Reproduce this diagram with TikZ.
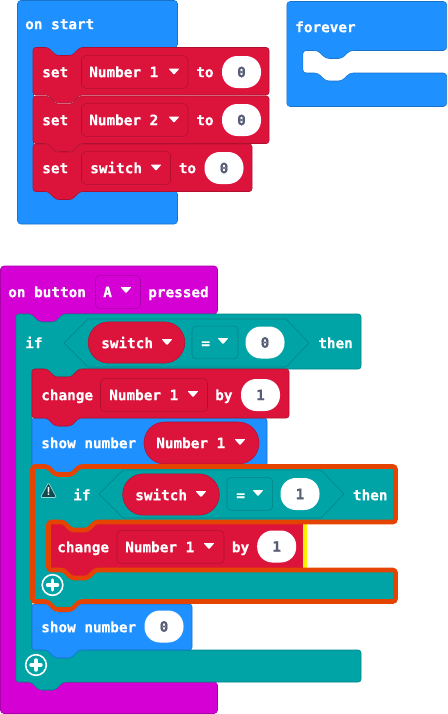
\documentclass[tikz,border=0pt]{standalone}
\usepackage{fontspec}
\setmainfont{DejaVu Sans Mono}[BoldFeatures={FakeBold=0.6}]
\definecolor{blockBlue}{HTML}{1E90FF}
\definecolor{blockBlueDark}{HTML}{1873CC}
\definecolor{blockRed}{HTML}{DC143C}
\definecolor{blockRedDark}{HTML}{B01030}
\definecolor{blockPink}{HTML}{D400D4}
\definecolor{blockPinkDark}{HTML}{AA00AA}
\definecolor{blockTeal}{HTML}{00A4A6}
\definecolor{blockTealDark}{HTML}{008385}
\definecolor{warnOrange}{HTML}{E54400}
\definecolor{warnDark}{HTML}{0F4A4C}
\definecolor{valueGray}{HTML}{575E75}
\tikzset{
  word/.style={anchor=west,inner sep=0,text=white,font=\fontsize{10.75}{12}\bfseries,text height=7.8pt,text depth=0pt},
  number value/.style={fill=white,rectangle,rounded corners=11.5pt,inner sep=0,minimum width=29.25pt,minimum height=24pt,text=valueGray,font=\fontsize{10.75}{12}\bfseries,text height=7.8pt,text depth=0pt},
  menu box/.style={rectangle,rounded corners=3pt,inner sep=0,minimum height=24.5pt},
  plus ring/.style={circle,draw=white,line width=1.2pt,minimum size=15.5pt,inner sep=0},
  plus bar/.style={draw=white,line width=2.6pt,line cap=round}
}
% x1, y1, x2, y2: one stacking block
\newcommand{\stackblock}[5][]{
  \path[rounded corners=2pt,#1] (#2,#3) -- ({#2+15},#3) -- ({#2+23},{#3+8}) -- ({#2+39},{#3+8}) -- ({#2+47},#3)
    -- (#4,#3) -- (#4,#5) -- ({#2+47},#5) -- ({#2+39},{#5+8}) -- ({#2+23},{#5+8}) -- ({#2+15},#5) -- (#2,#5) -- cycle;
}
% x1, y1, x2, arm bottom, arm top, y2: a block with a slot, left column 16 wide
\newcommand{\loopblock}[7][]{
  \path[rounded corners=2pt,#1] (#2,#3) -- ({#2+15},#3) -- ({#2+23},{#3+8}) -- ({#2+39},{#3+8}) -- ({#2+47},#3)
    -- (#4,#3) -- (#4,#5) -- ({#2+63},#5) -- ({#2+55},{#5+8}) -- ({#2+39},{#5+8}) -- ({#2+31},#5) -- ({#2+16},#5)
    -- ({#2+16},#6) -- ({#2+31},#6) -- ({#2+39},{#6+8}) -- ({#2+55},{#6+8}) -- ({#2+63},#6)
    -- (#4,#6) -- (#4,#7) -- ({#2+47},#7) -- ({#2+39},{#7+8}) -- ({#2+23},{#7+8}) -- ({#2+15},#7) -- (#2,#7) -- cycle;
}
% x1, y1, x2, arm bottom, arm top, y2: the same with a flat top
\newcommand{\hatblock}[7][]{
  \path[rounded corners=2.5pt,#1] (#2,#3) -- (#4,#3) -- (#4,#5) -- ({#2+63},#5) -- ({#2+55},{#5+8}) -- ({#2+39},{#5+8}) -- ({#2+31},#5) -- ({#2+16},#5)
    -- ({#2+16},#6) -- ({#2+31},#6) -- ({#2+39},{#6+8}) -- ({#2+55},{#6+8}) -- ({#2+63},#6)
    -- (#4,#6) -- (#4,#7) -- (#2,#7) -- cycle;
}
% name, x of centre, y: small white triangle of a menu
\newcommand{\menuarrow}[3]{
  \coordinate (#1) at (#2,#3);
  \fill[white,rounded corners=0.6pt] ($(#1)+(-5.5,-3)$) -- ($(#1)+(5.5,-3)$) -- ($(#1)+(0,3.2)$) -- cycle;
}
% name, x1, x2, y, dark colour
\newcommand{\menubox}[5]{
  \node[menu box,draw=#5,minimum width={(#3-#2)*0.75pt}] (#1) at ({(#2+#3)/2},#4) {};
}
% name, left tip x, y
\newcommand{\testhex}[3]{
  \draw[blockTealDark,fill=blockTeal] (#2,#3) -- ({#2+24},{#3-24}) -- ({#2+222},{#3-24}) -- ({#2+245},#3) -- ({#2+222},{#3+24}) -- ({#2+24},{#3+24}) -- cycle;
  \coordinate (#1) at (#2,#3);
}
\usetikzlibrary{calc}
\begin{document}
\begin{tikzpicture}[x=0.75pt,y=-0.75pt]
  \useasboundingbox (0,0) rectangle (447,714);

  % on start
  \hatblock[fill=blockBlue,draw=blockBlueDark]{17.5}{0.5}{177.5}{47.5}{191}{224}
  \node[word] (onStart) at (25,24) {on start};

  \stackblock[fill=blockRed,draw=blockRedDark]{33}{144}{252}{191.5}
  \stackblock[fill=blockRed,draw=blockRedDark]{33}{96}{269}{143.5}
  \stackblock[fill=blockRed,draw=blockRedDark]{33}{47.5}{269}{95}

  \node[word] (setA) at (42,72) {set};
  \menubox{setAMenu}{81.5}{188}{72}{blockRedDark}
  \node[word] (setAName) at (89,72) {Number 1};
  \menuarrow{setAArrow}{174}{71.5}
  \node[word] (setATo) at (196,72) {to};
  \node[number value] (setAValue) at (241.5,72) {0};

  \node[word] (setB) at (42,120) {set};
  \menubox{setBMenu}{81.5}{188}{120}{blockRedDark}
  \node[word] (setBName) at (89,120) {Number 2};
  \menuarrow{setBArrow}{174}{119.5}
  \node[word] (setBTo) at (196,120) {to};
  \node[number value] (setBValue) at (241.5,120) {0};

  \node[word] (setC) at (42,168) {set};
  \menubox{setCMenu}{81.5}{170.5}{168}{blockRedDark}
  \node[word] (setCName) at (90,168) {switch};
  \menuarrow{setCArrow}{156}{167.5}
  \node[word] (setCTo) at (178.5,168) {to};
  \node[number value] (setCValue) at (224,168) {0};

  % forever
  \hatblock[fill=blockBlue,draw=blockBlueDark]{286.8}{1.5}{446.7}{50.5}{73}{106.5}
  \node[word] (forever) at (295,27) {forever};

  % on button
  \hatblock[fill=blockPink,draw=blockPinkDark]{0.5}{266}{217.5}{314}{682}{713.5}
  \node[word] (onButton) at (8,292) {on button};
  \menubox{buttonMenu}{95.5}{140.5}{292}{blockPinkDark}
  \node[word] (buttonName) at (103,292) {A};
  \menuarrow{buttonArrow}{126}{290}
  \node[word] (pressed) at (148,292) {pressed};

  % outer if
  \loopblock[fill=blockTeal,draw=blockTealDark]{16}{314}{361}{369}{650}{682}
  \node[word] (ifOuter) at (25,343) {if};
  \testhex{hexOuter}{64}{343}
  \node[rectangle,rounded corners=15.5pt,fill=blockRed,draw=blockRedDark,minimum width=72.5pt,minimum height=31pt,inner sep=0] (pillOuter) at (136.5,342.5) {};
  \node[word] (pillOuterName) at (101,343) {switch};
  \menuarrow{pillOuterArrow}{167}{342}
  \menubox{eqOuterMenu}{192}{238}{342.5}{blockTealDark}
  \node[word] (eqOuter) at (201,343) {=};
  \menuarrow{eqOuterArrow}{223}{341}
  \node[number value] (eqOuterValue) at (265,342.5) {0};
  \node[word] (thenOuter) at (318,343) {then};

  % show number 0 goes under the tab of the inner if
  \stackblock[fill=blockBlue,draw=blockBlueDark]{32}{604}{192}{650}
  \node[word] (showZero) at (41,627) {show number};
  \node[number value] (showZeroValue) at (164,626.5) {0};

  % show number, then change above it
  \stackblock[fill=blockBlue,draw=blockBlueDark]{32}{418}{267}{466}
  \node[word] (showName) at (41,443) {show number};
  \node[rectangle,rounded corners=15.5pt,fill=blockRed,draw=blockRedDark,minimum width=86.25pt,minimum height=31.5pt,inner sep=0] (pillShow) at (201.5,443) {};
  \node[word] (pillShowName) at (156,443) {Number 1};
  \menuarrow{pillShowArrow}{240}{442}

  \stackblock[fill=blockRed,draw=blockRedDark]{32}{369}{289}{418}
  \node[word] (changeOuter) at (41,395) {change};
  \menubox{changeOuterMenu}{100.5}{207.5}{395}{blockRedDark}
  \node[word] (changeOuterName) at (109,395) {Number 1};
  \menuarrow{changeOuterArrow}{193}{394}
  \node[word] (changeOuterBy) at (215,395) {by};
  \node[number value] (changeOuterValue) at (260.5,395) {1};

  % inner if with its warning
  \loopblock[fill=blockTeal]{32.5}{466.5}{395.5}{522}{570}{601.5}
  \stackblock[fill=blockRed]{48.5}{522}{303}{570}
  \draw[yellow,line width=3pt] (305,522) -- (305,570);
  \loopblock[draw=warnOrange,line width=3.4pt]{32.5}{466.5}{395.5}{522}{570}{601.5}

  \node[word] (ifInner) at (73,495) {if};
  \testhex{hexInner}{99}{494}
  \node[rectangle,rounded corners=15.5pt,fill=blockRed,draw=blockRedDark,minimum width=72.5pt,minimum height=31pt,inner sep=0] (pillInner) at (171,494.5) {};
  \node[word] (pillInnerName) at (135,495) {switch};
  \menuarrow{pillInnerArrow}{201}{494}
  \menubox{eqInnerMenu}{227}{272.7}{494}{blockTealDark}
  \node[word] (eqInner) at (236,495) {=};
  \menuarrow{eqInnerArrow}{258}{493}
  \node[number value] (eqInnerValue) at (300,494) {1};
  \node[word] (thenInner) at (352.7,495) {then};

  \node[word] (changeInner) at (57,547) {change};
  \menubox{changeInnerMenu}{117}{224}{547}{blockRedDark}
  \node[word] (changeInnerName) at (125,547) {Number 1};
  \menuarrow{changeInnerArrow}{209}{546}
  \node[word] (changeInnerBy) at (231.7,547) {by};
  \node[number value] (changeInnerValue) at (276.7,546.5) {1};

  \fill[warnDark,draw=white!60!blockTeal,line width=0.5pt,rounded corners=1pt] (48.5,482.5) -- (56.5,497.5) -- (40.5,497.5) -- cycle;
  \node[text=white,inner sep=0,font=\fontsize{8}{8}\bfseries] (warnMark) at (48.5,491) {!};

  % add buttons
  \node[plus ring] (addInner) at (52.5,585) {};
  \draw[plus bar] ($(addInner)+(-5,0)$) -- ($(addInner)+(5,0)$);
  \draw[plus bar] ($(addInner)+(0,-5)$) -- ($(addInner)+(0,5)$);
  \node[plus ring] (addOuter) at (36,665) {};
  \draw[plus bar] ($(addOuter)+(-5,0)$) -- ($(addOuter)+(5,0)$);
  \draw[plus bar] ($(addOuter)+(0,-5)$) -- ($(addOuter)+(0,5)$);
\end{tikzpicture}
\end{document}
